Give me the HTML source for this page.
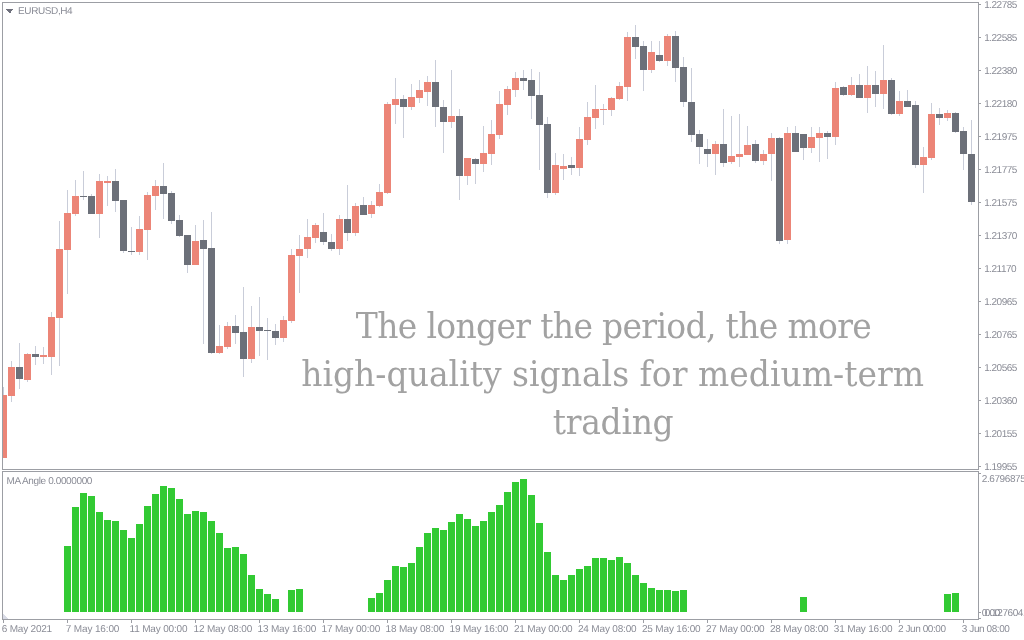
<!DOCTYPE html>
<html><head><meta charset="utf-8"><title>EURUSD,H4</title>
<style>
html,body{margin:0;padding:0;background:#fff;}
body{width:1024px;height:640px;position:relative;overflow:hidden;font-family:"Liberation Sans",sans-serif;}
svg{position:absolute;left:0;top:0;}
.l{position:absolute;font-size:10px;line-height:12px;text-rendering:geometricPrecision;color:#8a8c96;white-space:nowrap;}
.big{position:absolute;width:1000px;text-align:center;font-family:"DejaVu Serif","Liberation Serif",serif;font-size:33px;line-height:40px;color:#a2a2a2;white-space:nowrap;transform:scaleY(1.06);}
</style></head><body>
<svg width="1024" height="640" viewBox="0 0 1024 640" shape-rendering="crispEdges">
<rect x="3" y="387.0" width="1" height="71.0" fill="#c9cdd9"/>
<rect x="11" y="361.0" width="1" height="41.0" fill="#c9cdd9"/>
<rect x="19" y="343.0" width="1" height="46.0" fill="#c9cdd9"/>
<rect x="27" y="353.0" width="1" height="29.0" fill="#c9cdd9"/>
<rect x="35" y="346.0" width="1" height="19.0" fill="#c9cdd9"/>
<rect x="43" y="347.0" width="1" height="17.0" fill="#c9cdd9"/>
<rect x="51" y="312.0" width="1" height="63.0" fill="#c9cdd9"/>
<rect x="59" y="221.0" width="1" height="145.0" fill="#c9cdd9"/>
<rect x="67" y="190.0" width="1" height="104.0" fill="#c9cdd9"/>
<rect x="75" y="180.0" width="1" height="36.0" fill="#c9cdd9"/>
<rect x="83" y="171.0" width="1" height="29.0" fill="#c9cdd9"/>
<rect x="91" y="194.0" width="1" height="20.0" fill="#c9cdd9"/>
<rect x="99" y="174.0" width="1" height="64.0" fill="#c9cdd9"/>
<rect x="107" y="176.0" width="1" height="30.0" fill="#c9cdd9"/>
<rect x="115" y="169.0" width="1" height="43.0" fill="#c9cdd9"/>
<rect x="123" y="200.0" width="1" height="53.0" fill="#c9cdd9"/>
<rect x="131" y="227.0" width="1" height="28.0" fill="#c9cdd9"/>
<rect x="139" y="216.0" width="1" height="39.0" fill="#c9cdd9"/>
<rect x="147" y="192.0" width="1" height="68.0" fill="#c9cdd9"/>
<rect x="155" y="180.0" width="1" height="30.0" fill="#c9cdd9"/>
<rect x="163" y="163.0" width="1" height="56.0" fill="#c9cdd9"/>
<rect x="171" y="191.0" width="1" height="33.0" fill="#c9cdd9"/>
<rect x="179" y="215.0" width="1" height="22.0" fill="#c9cdd9"/>
<rect x="187" y="235.0" width="1" height="38.0" fill="#c9cdd9"/>
<rect x="195" y="225.0" width="1" height="40.0" fill="#c9cdd9"/>
<rect x="203" y="220.0" width="1" height="124.0" fill="#c9cdd9"/>
<rect x="211" y="212.0" width="1" height="142.0" fill="#c9cdd9"/>
<rect x="219" y="325.0" width="1" height="29.0" fill="#c9cdd9"/>
<rect x="227" y="322.0" width="1" height="27.0" fill="#c9cdd9"/>
<rect x="235" y="315.0" width="1" height="29.0" fill="#c9cdd9"/>
<rect x="243" y="287.0" width="1" height="90.0" fill="#c9cdd9"/>
<rect x="251" y="306.0" width="1" height="57.0" fill="#c9cdd9"/>
<rect x="259" y="297.0" width="1" height="59.0" fill="#c9cdd9"/>
<rect x="267" y="318.0" width="1" height="42.0" fill="#c9cdd9"/>
<rect x="275" y="324.0" width="1" height="21.0" fill="#c9cdd9"/>
<rect x="283" y="316.0" width="1" height="26.0" fill="#c9cdd9"/>
<rect x="291" y="249.0" width="1" height="74.0" fill="#c9cdd9"/>
<rect x="299" y="235.0" width="1" height="58.0" fill="#c9cdd9"/>
<rect x="307" y="219.0" width="1" height="39.0" fill="#c9cdd9"/>
<rect x="315" y="223.0" width="1" height="20.0" fill="#c9cdd9"/>
<rect x="323" y="213.0" width="1" height="32.0" fill="#c9cdd9"/>
<rect x="331" y="234.0" width="1" height="17.0" fill="#c9cdd9"/>
<rect x="339" y="215.0" width="1" height="40.0" fill="#c9cdd9"/>
<rect x="347" y="185.0" width="1" height="56.0" fill="#c9cdd9"/>
<rect x="355" y="203.0" width="1" height="33.0" fill="#c9cdd9"/>
<rect x="363" y="197.0" width="1" height="18.0" fill="#c9cdd9"/>
<rect x="371" y="201.0" width="1" height="17.0" fill="#c9cdd9"/>
<rect x="379" y="184.0" width="1" height="23.0" fill="#c9cdd9"/>
<rect x="387" y="102.0" width="1" height="92.0" fill="#c9cdd9"/>
<rect x="395" y="78.0" width="1" height="46.0" fill="#c9cdd9"/>
<rect x="403" y="95.0" width="1" height="43.0" fill="#c9cdd9"/>
<rect x="411" y="84.0" width="1" height="26.0" fill="#c9cdd9"/>
<rect x="419" y="80.0" width="1" height="23.0" fill="#c9cdd9"/>
<rect x="427" y="76.0" width="1" height="30.0" fill="#c9cdd9"/>
<rect x="435" y="60.0" width="1" height="67.0" fill="#c9cdd9"/>
<rect x="443" y="100.0" width="1" height="53.0" fill="#c9cdd9"/>
<rect x="451" y="70.0" width="1" height="58.0" fill="#c9cdd9"/>
<rect x="459" y="109.0" width="1" height="91.0" fill="#c9cdd9"/>
<rect x="467" y="158.0" width="1" height="27.0" fill="#c9cdd9"/>
<rect x="475" y="158.0" width="1" height="26.0" fill="#c9cdd9"/>
<rect x="483" y="126.0" width="1" height="46.0" fill="#c9cdd9"/>
<rect x="491" y="120.0" width="1" height="45.0" fill="#c9cdd9"/>
<rect x="499" y="91.0" width="1" height="48.0" fill="#c9cdd9"/>
<rect x="507" y="86.0" width="1" height="29.0" fill="#c9cdd9"/>
<rect x="515" y="72.0" width="1" height="25.0" fill="#c9cdd9"/>
<rect x="523" y="70.0" width="1" height="20.0" fill="#c9cdd9"/>
<rect x="531" y="69.0" width="1" height="50.0" fill="#c9cdd9"/>
<rect x="539" y="72.0" width="1" height="98.0" fill="#c9cdd9"/>
<rect x="547" y="117.0" width="1" height="81.0" fill="#c9cdd9"/>
<rect x="555" y="153.0" width="1" height="42.0" fill="#c9cdd9"/>
<rect x="563" y="154.0" width="1" height="26.0" fill="#c9cdd9"/>
<rect x="571" y="157.0" width="1" height="18.0" fill="#c9cdd9"/>
<rect x="579" y="127.0" width="1" height="49.0" fill="#c9cdd9"/>
<rect x="587" y="102.0" width="1" height="43.0" fill="#c9cdd9"/>
<rect x="595" y="85.0" width="1" height="44.0" fill="#c9cdd9"/>
<rect x="603" y="104.0" width="1" height="21.0" fill="#c9cdd9"/>
<rect x="611" y="97.0" width="1" height="19.0" fill="#c9cdd9"/>
<rect x="619" y="82.0" width="1" height="18.0" fill="#c9cdd9"/>
<rect x="627" y="32.0" width="1" height="69.0" fill="#c9cdd9"/>
<rect x="635" y="25.0" width="1" height="34.0" fill="#c9cdd9"/>
<rect x="643" y="41.0" width="1" height="50.0" fill="#c9cdd9"/>
<rect x="651" y="41.0" width="1" height="32.0" fill="#c9cdd9"/>
<rect x="659" y="41.0" width="1" height="21.0" fill="#c9cdd9"/>
<rect x="667" y="34.0" width="1" height="32.0" fill="#c9cdd9"/>
<rect x="675" y="31.0" width="1" height="51.0" fill="#c9cdd9"/>
<rect x="683" y="57.0" width="1" height="50.0" fill="#c9cdd9"/>
<rect x="691" y="68.0" width="1" height="74.0" fill="#c9cdd9"/>
<rect x="699" y="130.0" width="1" height="34.0" fill="#c9cdd9"/>
<rect x="707" y="139.0" width="1" height="28.0" fill="#c9cdd9"/>
<rect x="715" y="141.0" width="1" height="34.0" fill="#c9cdd9"/>
<rect x="723" y="109.0" width="1" height="58.0" fill="#c9cdd9"/>
<rect x="731" y="116.0" width="1" height="48.0" fill="#c9cdd9"/>
<rect x="739" y="114.0" width="1" height="53.0" fill="#c9cdd9"/>
<rect x="747" y="126.0" width="1" height="29.0" fill="#c9cdd9"/>
<rect x="755" y="140.0" width="1" height="23.0" fill="#c9cdd9"/>
<rect x="763" y="150.0" width="1" height="15.0" fill="#c9cdd9"/>
<rect x="771" y="133.0" width="1" height="48.0" fill="#c9cdd9"/>
<rect x="779" y="137.0" width="1" height="107.0" fill="#c9cdd9"/>
<rect x="787" y="127.0" width="1" height="117.0" fill="#c9cdd9"/>
<rect x="795" y="126.0" width="1" height="26.0" fill="#c9cdd9"/>
<rect x="803" y="134.0" width="1" height="26.0" fill="#c9cdd9"/>
<rect x="811" y="127.0" width="1" height="26.0" fill="#c9cdd9"/>
<rect x="819" y="127.0" width="1" height="35.0" fill="#c9cdd9"/>
<rect x="827" y="131.0" width="1" height="28.0" fill="#c9cdd9"/>
<rect x="835" y="82.0" width="1" height="63.0" fill="#c9cdd9"/>
<rect x="843" y="86.0" width="1" height="10.0" fill="#c9cdd9"/>
<rect x="851" y="77.0" width="1" height="19.0" fill="#c9cdd9"/>
<rect x="859" y="74.0" width="1" height="24.0" fill="#c9cdd9"/>
<rect x="867" y="66.0" width="1" height="47.0" fill="#c9cdd9"/>
<rect x="875" y="71.0" width="1" height="36.0" fill="#c9cdd9"/>
<rect x="883" y="45.0" width="1" height="64.0" fill="#c9cdd9"/>
<rect x="891" y="78.0" width="1" height="37.0" fill="#c9cdd9"/>
<rect x="899" y="91.0" width="1" height="25.0" fill="#c9cdd9"/>
<rect x="907" y="90.0" width="1" height="17.0" fill="#c9cdd9"/>
<rect x="915" y="101.0" width="1" height="67.0" fill="#c9cdd9"/>
<rect x="923" y="147.0" width="1" height="46.0" fill="#c9cdd9"/>
<rect x="931" y="103.0" width="1" height="57.0" fill="#c9cdd9"/>
<rect x="939" y="108.0" width="1" height="17.0" fill="#c9cdd9"/>
<rect x="947" y="110.0" width="1" height="11.0" fill="#c9cdd9"/>
<rect x="955" y="112.0" width="1" height="21.0" fill="#c9cdd9"/>
<rect x="963" y="127.0" width="1" height="43.0" fill="#c9cdd9"/>
<rect x="971" y="120.0" width="1" height="85.0" fill="#c9cdd9"/>
<rect x="3" y="395.0" width="4" height="63.0" fill="#ec8577"/>
<rect x="8" y="367.0" width="7" height="29.0" fill="#ec8577"/>
<rect x="16" y="367.0" width="7" height="12.0" fill="#6c7079"/>
<rect x="24" y="354.0" width="7" height="26.0" fill="#ec8577"/>
<rect x="32" y="354.0" width="7" height="3.0" fill="#6c7079"/>
<rect x="40" y="355.0" width="7" height="2.0" fill="#ec8577"/>
<rect x="48" y="317.0" width="7" height="40.0" fill="#ec8577"/>
<rect x="56" y="249.0" width="7" height="69.0" fill="#ec8577"/>
<rect x="64" y="213.0" width="7" height="37.0" fill="#ec8577"/>
<rect x="72" y="196.0" width="7" height="18.0" fill="#ec8577"/>
<rect x="80" y="196.0" width="7" height="1.0" fill="#6c7079"/>
<rect x="88" y="196.0" width="7" height="18.0" fill="#6c7079"/>
<rect x="96" y="181.0" width="7" height="33.0" fill="#ec8577"/>
<rect x="104" y="181.0" width="7" height="2.0" fill="#ec8577"/>
<rect x="112" y="181.0" width="7" height="20.0" fill="#6c7079"/>
<rect x="120" y="200.0" width="7" height="51.0" fill="#6c7079"/>
<rect x="128" y="251.0" width="7" height="1.0" fill="#6c7079"/>
<rect x="136" y="229.0" width="7" height="23.0" fill="#ec8577"/>
<rect x="144" y="195.0" width="7" height="35.0" fill="#ec8577"/>
<rect x="152" y="186.0" width="7" height="10.0" fill="#ec8577"/>
<rect x="160" y="186.0" width="7" height="8.0" fill="#6c7079"/>
<rect x="168" y="193.0" width="7" height="28.0" fill="#6c7079"/>
<rect x="176" y="220.0" width="7" height="16.0" fill="#6c7079"/>
<rect x="184" y="235.0" width="7" height="30.0" fill="#6c7079"/>
<rect x="192" y="241.0" width="7" height="24.0" fill="#ec8577"/>
<rect x="200" y="240.0" width="7" height="9.0" fill="#6c7079"/>
<rect x="208" y="248.0" width="7" height="105.0" fill="#6c7079"/>
<rect x="216" y="346.0" width="7" height="7.0" fill="#ec8577"/>
<rect x="224" y="326.0" width="7" height="21.0" fill="#ec8577"/>
<rect x="232" y="326.0" width="7" height="7.0" fill="#6c7079"/>
<rect x="240" y="332.0" width="7" height="27.0" fill="#6c7079"/>
<rect x="248" y="327.0" width="7" height="32.0" fill="#ec8577"/>
<rect x="256" y="327.0" width="7" height="4.0" fill="#6c7079"/>
<rect x="264" y="330.0" width="7" height="1.0" fill="#6c7079"/>
<rect x="272" y="331.0" width="7" height="7.0" fill="#6c7079"/>
<rect x="280" y="320.0" width="7" height="18.0" fill="#ec8577"/>
<rect x="288" y="255.0" width="7" height="66.0" fill="#ec8577"/>
<rect x="296" y="249.0" width="7" height="7.0" fill="#ec8577"/>
<rect x="304" y="237.0" width="7" height="12.0" fill="#ec8577"/>
<rect x="312" y="225.0" width="7" height="13.0" fill="#ec8577"/>
<rect x="320" y="232.0" width="7" height="10.0" fill="#6c7079"/>
<rect x="328" y="242.0" width="7" height="7.0" fill="#6c7079"/>
<rect x="336" y="219.0" width="7" height="30.0" fill="#ec8577"/>
<rect x="344" y="219.0" width="7" height="14.0" fill="#6c7079"/>
<rect x="352" y="206.0" width="7" height="27.0" fill="#ec8577"/>
<rect x="360" y="205.0" width="7" height="10.0" fill="#6c7079"/>
<rect x="368" y="205.0" width="7" height="9.0" fill="#ec8577"/>
<rect x="376" y="192.0" width="7" height="14.0" fill="#ec8577"/>
<rect x="384" y="104.0" width="7" height="89.0" fill="#ec8577"/>
<rect x="392" y="99.0" width="7" height="6.0" fill="#ec8577"/>
<rect x="400" y="99.0" width="7" height="8.0" fill="#6c7079"/>
<rect x="408" y="97.0" width="7" height="10.0" fill="#ec8577"/>
<rect x="416" y="90.0" width="7" height="8.0" fill="#ec8577"/>
<rect x="424" y="82.0" width="7" height="10.0" fill="#ec8577"/>
<rect x="432" y="82.0" width="7" height="25.0" fill="#6c7079"/>
<rect x="440" y="107.0" width="7" height="15.0" fill="#6c7079"/>
<rect x="448" y="116.0" width="7" height="6.0" fill="#ec8577"/>
<rect x="456" y="116.0" width="7" height="60.0" fill="#6c7079"/>
<rect x="464" y="158.0" width="7" height="18.0" fill="#ec8577"/>
<rect x="472" y="159.0" width="7" height="5.0" fill="#6c7079"/>
<rect x="480" y="153.0" width="7" height="11.0" fill="#ec8577"/>
<rect x="488" y="134.0" width="7" height="20.0" fill="#ec8577"/>
<rect x="496" y="104.0" width="7" height="31.0" fill="#ec8577"/>
<rect x="504" y="89.0" width="7" height="16.0" fill="#ec8577"/>
<rect x="512" y="78.0" width="7" height="12.0" fill="#ec8577"/>
<rect x="520" y="78.0" width="7" height="3.0" fill="#6c7079"/>
<rect x="528" y="80.0" width="7" height="16.0" fill="#6c7079"/>
<rect x="536" y="95.0" width="7" height="30.0" fill="#6c7079"/>
<rect x="544" y="124.0" width="7" height="69.0" fill="#6c7079"/>
<rect x="552" y="165.0" width="7" height="28.0" fill="#ec8577"/>
<rect x="560" y="166.0" width="7" height="3.0" fill="#ec8577"/>
<rect x="568" y="165.0" width="7" height="3.0" fill="#6c7079"/>
<rect x="576" y="139.0" width="7" height="29.0" fill="#ec8577"/>
<rect x="584" y="117.0" width="7" height="23.0" fill="#ec8577"/>
<rect x="592" y="109.0" width="7" height="9.0" fill="#ec8577"/>
<rect x="600" y="109.0" width="7" height="1.0" fill="#ec8577"/>
<rect x="608" y="98.0" width="7" height="12.0" fill="#ec8577"/>
<rect x="616" y="86.0" width="7" height="13.0" fill="#ec8577"/>
<rect x="624" y="37.0" width="7" height="50.0" fill="#ec8577"/>
<rect x="632" y="37.0" width="7" height="10.0" fill="#6c7079"/>
<rect x="640" y="46.0" width="7" height="24.0" fill="#6c7079"/>
<rect x="648" y="52.0" width="7" height="18.0" fill="#ec8577"/>
<rect x="656" y="55.0" width="7" height="6.0" fill="#6c7079"/>
<rect x="664" y="36.0" width="7" height="25.0" fill="#ec8577"/>
<rect x="672" y="36.0" width="7" height="32.0" fill="#6c7079"/>
<rect x="680" y="67.0" width="7" height="35.0" fill="#6c7079"/>
<rect x="688" y="102.0" width="7" height="33.0" fill="#6c7079"/>
<rect x="696" y="134.0" width="7" height="13.0" fill="#6c7079"/>
<rect x="704" y="149.0" width="7" height="5.0" fill="#6c7079"/>
<rect x="712" y="144.0" width="7" height="10.0" fill="#ec8577"/>
<rect x="720" y="144.0" width="7" height="19.0" fill="#6c7079"/>
<rect x="728" y="156.0" width="7" height="6.0" fill="#ec8577"/>
<rect x="736" y="154.0" width="7" height="3.0" fill="#ec8577"/>
<rect x="744" y="145.0" width="7" height="10.0" fill="#ec8577"/>
<rect x="752" y="144.0" width="7" height="17.0" fill="#6c7079"/>
<rect x="760" y="154.0" width="7" height="7.0" fill="#ec8577"/>
<rect x="768" y="138.0" width="7" height="16.0" fill="#ec8577"/>
<rect x="776" y="138.0" width="7" height="103.0" fill="#6c7079"/>
<rect x="784" y="133.0" width="7" height="107.0" fill="#ec8577"/>
<rect x="792" y="133.0" width="7" height="19.0" fill="#6c7079"/>
<rect x="800" y="134.0" width="7" height="14.0" fill="#6c7079"/>
<rect x="808" y="137.0" width="7" height="11.0" fill="#ec8577"/>
<rect x="816" y="133.0" width="7" height="5.0" fill="#ec8577"/>
<rect x="824" y="133.0" width="7" height="4.0" fill="#6c7079"/>
<rect x="832" y="88.0" width="7" height="49.0" fill="#ec8577"/>
<rect x="840" y="87.0" width="7" height="8.0" fill="#6c7079"/>
<rect x="848" y="85.0" width="7" height="10.0" fill="#ec8577"/>
<rect x="856" y="85.0" width="7" height="13.0" fill="#6c7079"/>
<rect x="864" y="85.0" width="7" height="13.0" fill="#ec8577"/>
<rect x="872" y="85.0" width="7" height="9.0" fill="#6c7079"/>
<rect x="880" y="80.0" width="7" height="14.0" fill="#ec8577"/>
<rect x="888" y="80.0" width="7" height="34.0" fill="#6c7079"/>
<rect x="896" y="101.0" width="7" height="13.0" fill="#ec8577"/>
<rect x="904" y="101.0" width="7" height="6.0" fill="#6c7079"/>
<rect x="912" y="105.0" width="7" height="60.0" fill="#6c7079"/>
<rect x="920" y="157.0" width="7" height="8.0" fill="#ec8577"/>
<rect x="928" y="114.0" width="7" height="44.0" fill="#ec8577"/>
<rect x="936" y="114.0" width="7" height="4.0" fill="#6c7079"/>
<rect x="944" y="113.0" width="7" height="5.0" fill="#ec8577"/>
<rect x="952" y="113.0" width="7" height="19.0" fill="#6c7079"/>
<rect x="960" y="131.0" width="7" height="23.0" fill="#6c7079"/>
<rect x="968" y="154.0" width="7" height="48.0" fill="#6c7079"/>
<rect x="64" y="546" width="7" height="66" fill="#32ca33"/>
<rect x="72" y="507" width="7" height="105" fill="#32ca33"/>
<rect x="80" y="493" width="7" height="119" fill="#32ca33"/>
<rect x="88" y="496" width="7" height="116" fill="#32ca33"/>
<rect x="96" y="512" width="7" height="100" fill="#32ca33"/>
<rect x="104" y="520" width="7" height="92" fill="#32ca33"/>
<rect x="112" y="521" width="7" height="91" fill="#32ca33"/>
<rect x="120" y="530" width="7" height="82" fill="#32ca33"/>
<rect x="128" y="538" width="7" height="74" fill="#32ca33"/>
<rect x="136" y="524" width="7" height="88" fill="#32ca33"/>
<rect x="144" y="506" width="7" height="106" fill="#32ca33"/>
<rect x="152" y="494" width="7" height="118" fill="#32ca33"/>
<rect x="160" y="486" width="7" height="126" fill="#32ca33"/>
<rect x="168" y="488" width="7" height="124" fill="#32ca33"/>
<rect x="176" y="499" width="7" height="113" fill="#32ca33"/>
<rect x="184" y="514" width="7" height="98" fill="#32ca33"/>
<rect x="192" y="511" width="7" height="101" fill="#32ca33"/>
<rect x="200" y="512" width="7" height="100" fill="#32ca33"/>
<rect x="208" y="521" width="7" height="91" fill="#32ca33"/>
<rect x="216" y="533" width="7" height="79" fill="#32ca33"/>
<rect x="224" y="548" width="7" height="64" fill="#32ca33"/>
<rect x="232" y="547" width="7" height="65" fill="#32ca33"/>
<rect x="240" y="554" width="7" height="58" fill="#32ca33"/>
<rect x="248" y="575" width="7" height="37" fill="#32ca33"/>
<rect x="256" y="589" width="7" height="23" fill="#32ca33"/>
<rect x="264" y="594" width="7" height="18" fill="#32ca33"/>
<rect x="272" y="599" width="7" height="13" fill="#32ca33"/>
<rect x="288" y="590" width="7" height="22" fill="#32ca33"/>
<rect x="296" y="589" width="7" height="23" fill="#32ca33"/>
<rect x="368" y="598" width="7" height="14" fill="#32ca33"/>
<rect x="376" y="593" width="7" height="19" fill="#32ca33"/>
<rect x="384" y="580" width="7" height="32" fill="#32ca33"/>
<rect x="392" y="566" width="7" height="46" fill="#32ca33"/>
<rect x="400" y="567" width="7" height="45" fill="#32ca33"/>
<rect x="408" y="563" width="7" height="49" fill="#32ca33"/>
<rect x="416" y="547" width="7" height="65" fill="#32ca33"/>
<rect x="424" y="533" width="7" height="79" fill="#32ca33"/>
<rect x="432" y="528" width="7" height="84" fill="#32ca33"/>
<rect x="440" y="530" width="7" height="82" fill="#32ca33"/>
<rect x="448" y="522" width="7" height="90" fill="#32ca33"/>
<rect x="456" y="514" width="7" height="98" fill="#32ca33"/>
<rect x="464" y="519" width="7" height="93" fill="#32ca33"/>
<rect x="472" y="526" width="7" height="86" fill="#32ca33"/>
<rect x="480" y="521" width="7" height="91" fill="#32ca33"/>
<rect x="488" y="512" width="7" height="100" fill="#32ca33"/>
<rect x="496" y="505" width="7" height="107" fill="#32ca33"/>
<rect x="504" y="492" width="7" height="120" fill="#32ca33"/>
<rect x="512" y="482" width="7" height="130" fill="#32ca33"/>
<rect x="520" y="479" width="7" height="133" fill="#32ca33"/>
<rect x="528" y="495" width="7" height="117" fill="#32ca33"/>
<rect x="536" y="523" width="7" height="89" fill="#32ca33"/>
<rect x="544" y="552" width="7" height="60" fill="#32ca33"/>
<rect x="552" y="575" width="7" height="37" fill="#32ca33"/>
<rect x="560" y="580" width="7" height="32" fill="#32ca33"/>
<rect x="568" y="575" width="7" height="37" fill="#32ca33"/>
<rect x="576" y="569" width="7" height="43" fill="#32ca33"/>
<rect x="584" y="566" width="7" height="46" fill="#32ca33"/>
<rect x="592" y="558" width="7" height="54" fill="#32ca33"/>
<rect x="600" y="558" width="7" height="54" fill="#32ca33"/>
<rect x="608" y="560" width="7" height="52" fill="#32ca33"/>
<rect x="616" y="557" width="7" height="55" fill="#32ca33"/>
<rect x="624" y="563" width="7" height="49" fill="#32ca33"/>
<rect x="632" y="575" width="7" height="37" fill="#32ca33"/>
<rect x="640" y="583" width="7" height="29" fill="#32ca33"/>
<rect x="648" y="588" width="7" height="24" fill="#32ca33"/>
<rect x="656" y="590" width="7" height="22" fill="#32ca33"/>
<rect x="664" y="590" width="7" height="22" fill="#32ca33"/>
<rect x="672" y="591" width="7" height="21" fill="#32ca33"/>
<rect x="680" y="590" width="7" height="22" fill="#32ca33"/>
<rect x="800" y="597" width="7" height="15" fill="#32ca33"/>
<rect x="944" y="594" width="7" height="18" fill="#32ca33"/>
<rect x="952" y="593" width="7" height="19" fill="#32ca33"/>
<rect x="2" y="2" width="977" height="1" fill="#9c9ea4"/>
<rect x="2" y="2" width="1" height="468" fill="#9c9ea4"/>
<rect x="2" y="469" width="977" height="1" fill="#9c9ea4"/>
<rect x="978" y="2" width="1" height="468" fill="#9c9ea4"/>
<rect x="2" y="471" width="977" height="1" fill="#9c9ea4"/>
<rect x="2" y="471" width="1" height="149" fill="#9c9ea4"/>
<rect x="2" y="619" width="977" height="1" fill="#9c9ea4"/>
<rect x="978" y="471" width="1" height="149" fill="#9c9ea4"/>
<rect x="979" y="4" width="2" height="1" fill="#9c9ea4"/>
<rect x="979" y="37" width="2" height="1" fill="#9c9ea4"/>
<rect x="979" y="70" width="2" height="1" fill="#9c9ea4"/>
<rect x="979" y="103" width="2" height="1" fill="#9c9ea4"/>
<rect x="979" y="136" width="2" height="1" fill="#9c9ea4"/>
<rect x="979" y="169" width="2" height="1" fill="#9c9ea4"/>
<rect x="979" y="202" width="2" height="1" fill="#9c9ea4"/>
<rect x="979" y="235" width="2" height="1" fill="#9c9ea4"/>
<rect x="979" y="268" width="2" height="1" fill="#9c9ea4"/>
<rect x="979" y="301" width="2" height="1" fill="#9c9ea4"/>
<rect x="979" y="334" width="2" height="1" fill="#9c9ea4"/>
<rect x="979" y="367" width="2" height="1" fill="#9c9ea4"/>
<rect x="979" y="400" width="2" height="1" fill="#9c9ea4"/>
<rect x="979" y="433" width="2" height="1" fill="#9c9ea4"/>
<rect x="979" y="466" width="2" height="1" fill="#9c9ea4"/>
<rect x="979" y="473" width="2" height="1" fill="#9c9ea4"/>
<rect x="979" y="612" width="2" height="1" fill="#9c9ea4"/>
<rect x="979" y="618" width="2" height="1" fill="#9c9ea4"/>
<rect x="3" y="620" width="1" height="3" fill="#9c9ea4"/>
<rect x="67" y="620" width="1" height="3" fill="#9c9ea4"/>
<rect x="131" y="620" width="1" height="3" fill="#9c9ea4"/>
<rect x="195" y="620" width="1" height="3" fill="#9c9ea4"/>
<rect x="259" y="620" width="1" height="3" fill="#9c9ea4"/>
<rect x="323" y="620" width="1" height="3" fill="#9c9ea4"/>
<rect x="387" y="620" width="1" height="3" fill="#9c9ea4"/>
<rect x="451" y="620" width="1" height="3" fill="#9c9ea4"/>
<rect x="515" y="620" width="1" height="3" fill="#9c9ea4"/>
<rect x="579" y="620" width="1" height="3" fill="#9c9ea4"/>
<rect x="643" y="620" width="1" height="3" fill="#9c9ea4"/>
<rect x="707" y="620" width="1" height="3" fill="#9c9ea4"/>
<rect x="771" y="620" width="1" height="3" fill="#9c9ea4"/>
<rect x="835" y="620" width="1" height="3" fill="#9c9ea4"/>
<rect x="899" y="620" width="1" height="3" fill="#9c9ea4"/>
<rect x="963" y="620" width="1" height="3" fill="#9c9ea4"/>
<polygon points="3,614 3,619 8,619" fill="#d9dbe6"/>
<polygon points="6,9 13.5,9 9.75,13.5" fill="#6f717d"/>
</svg>
<div class="l" style="left:18.11px;top:6px;letter-spacing:-0.41px;">EURUSD,H4</div>
<div class="l" style="left:6.56px;top:476px;letter-spacing:-0.38px;">MA Angle 0.0000000</div>
<div class="l" style="left:984.21px;top:0px;letter-spacing:-0.5px;">1.22785</div>
<div class="l" style="left:984.21px;top:33px;letter-spacing:-0.5px;">1.22585</div>
<div class="l" style="left:984.21px;top:66px;letter-spacing:-0.5px;">1.22380</div>
<div class="l" style="left:984.21px;top:99px;letter-spacing:-0.5px;">1.22180</div>
<div class="l" style="left:984.21px;top:132px;letter-spacing:-0.5px;">1.21975</div>
<div class="l" style="left:984.21px;top:165px;letter-spacing:-0.5px;">1.21775</div>
<div class="l" style="left:984.21px;top:198px;letter-spacing:-0.5px;">1.21575</div>
<div class="l" style="left:984.21px;top:231px;letter-spacing:-0.5px;">1.21370</div>
<div class="l" style="left:984.21px;top:264px;letter-spacing:-0.5px;">1.21170</div>
<div class="l" style="left:984.21px;top:297px;letter-spacing:-0.5px;">1.20965</div>
<div class="l" style="left:984.21px;top:330px;letter-spacing:-0.5px;">1.20765</div>
<div class="l" style="left:984.21px;top:363px;letter-spacing:-0.5px;">1.20565</div>
<div class="l" style="left:984.21px;top:396px;letter-spacing:-0.5px;">1.20360</div>
<div class="l" style="left:984.21px;top:429px;letter-spacing:-0.5px;">1.20155</div>
<div class="l" style="left:984.21px;top:462px;letter-spacing:-0.5px;">1.19955</div>
<div class="l" style="left:981.75px;top:474px;letter-spacing:-0.4px;">2.6796875</div>
<div class="l" style="left:984.70px;top:608px;letter-spacing:-0.43px;">0.1276041</div>
<div class="l" style="left:981.65px;top:608px;letter-spacing:-0.3px;">0.00</div>
<div class="l" style="left:1.85px;top:624px;letter-spacing:-0.22px;">6 May 2021</div>
<div class="l" style="left:65.75px;top:624px;letter-spacing:-0.14px;">7 May 16:00</div>
<div class="l" style="left:129.51px;top:624px;letter-spacing:-0.17px;">11 May 00:00</div>
<div class="l" style="left:193.51px;top:624px;letter-spacing:-0.17px;">12 May 08:00</div>
<div class="l" style="left:257.51px;top:624px;letter-spacing:-0.17px;">13 May 16:00</div>
<div class="l" style="left:321.51px;top:624px;letter-spacing:-0.17px;">17 May 00:00</div>
<div class="l" style="left:385.51px;top:624px;letter-spacing:-0.17px;">18 May 08:00</div>
<div class="l" style="left:449.51px;top:624px;letter-spacing:-0.17px;">19 May 16:00</div>
<div class="l" style="left:513.95px;top:624px;letter-spacing:-0.17px;">21 May 00:00</div>
<div class="l" style="left:577.95px;top:624px;letter-spacing:-0.17px;">24 May 08:00</div>
<div class="l" style="left:641.95px;top:624px;letter-spacing:-0.17px;">25 May 16:00</div>
<div class="l" style="left:705.95px;top:624px;letter-spacing:-0.17px;">27 May 00:00</div>
<div class="l" style="left:769.95px;top:624px;letter-spacing:-0.17px;">28 May 08:00</div>
<div class="l" style="left:833.85px;top:624px;letter-spacing:-0.17px;">31 May 16:00</div>
<div class="l" style="left:897.95px;top:624px;letter-spacing:-0.42px;">2 Jun 00:00</div>
<div class="l" style="left:961.85px;top:624px;letter-spacing:-0.42px;">3 Jun 08:00</div>
<div class="big" style="left:113.5px;top:307px;letter-spacing:-0.68px;transform-origin:50% 31px;">The longer the period, the more</div>
<div class="big" style="left:112.60000000000002px;top:355px;letter-spacing:0px;transform-origin:50% 31px;">high-quality signals for medium-term</div>
<div class="big" style="left:113.10000000000002px;top:403px;letter-spacing:-0.3px;transform-origin:50% 31px;">trading</div>
</body></html>
